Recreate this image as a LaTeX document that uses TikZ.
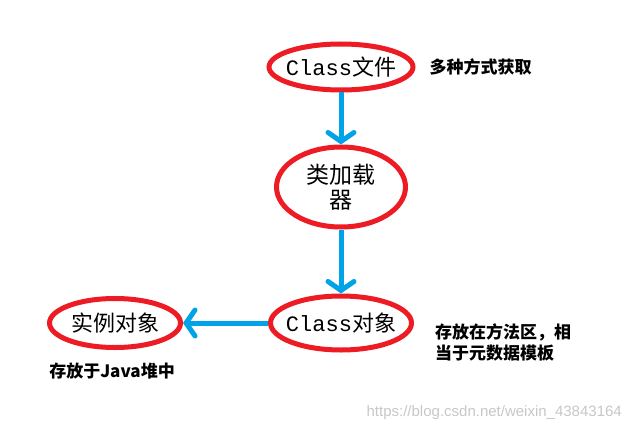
\documentclass[tikz,border=0pt]{standalone}
\usepackage{fontspec}
\setmainfont{Noto Sans CJK SC}
\setmonofont{Liberation Mono}
\newfontfamily\urlfont{Liberation Sans}
\usetikzlibrary{arrows.meta,positioning,shapes.geometric}
\definecolor{ringred}{HTML}{ED1C24}
\definecolor{arrblue}{HTML}{00A2E8}
\newcommand{\nowidth}[1]{\makebox[0pt]{#1}}

\begin{document}
\begin{tikzpicture}[x=1pt, y=1pt,
  stage/.style={draw=ringred, ellipse, line width=5pt, inner sep=0pt, font=\fontsize{22}{27}\selectfont},
  note/.style={inner sep=0pt, align=left, font=\fontsize{17}{21}\selectfont\bfseries},
  arr/.style={-{Straight Barb[length=9pt, width=26pt, line cap=round]}, line width=5pt, arrblue}
]
  \useasboundingbox (0,0) rectangle (631,-433);

  \node[stage, minimum width=144pt, minimum height=46pt] at (341,-67) (file) {\nowidth{\texttt{Class}文件}};
  \node[stage, minimum width=129pt, minimum height=80pt, below=52pt of file, font=\fontsize{23}{28}\selectfont] (loader) {\nowidth{\shortstack{类加载\\[2pt]器}}};
  \node[stage, minimum width=141pt, minimum height=54pt, below=64pt of loader] (object) {\nowidth{\texttt{Class}对象}};
  \node[stage, minimum width=131pt, minimum height=49pt, left=85pt of object] (instance) {\nowidth{实例对象}};

  \node[note, right=14pt of file] (ways) {多种方式获取};
  \node[note, right=21pt of object.east, anchor=north west] (method) {存放在方法区，相\\当于元数据模板};
  \node[note, below=13pt of instance, xshift=-3pt] (heap) {存放于Java堆中};

  \node[anchor=east, inner sep=0pt, text=black!22, font=\urlfont\fontsize{15}{18}\selectfont] at (622,-413) (mark) {https://blog.csdn.net/weixin\_43843164};

  \draw[arr] (file) -- (loader);
  \draw[arr] (loader) -- (object);
  \draw[arr] (object) -- (instance);
\end{tikzpicture}
\end{document}
